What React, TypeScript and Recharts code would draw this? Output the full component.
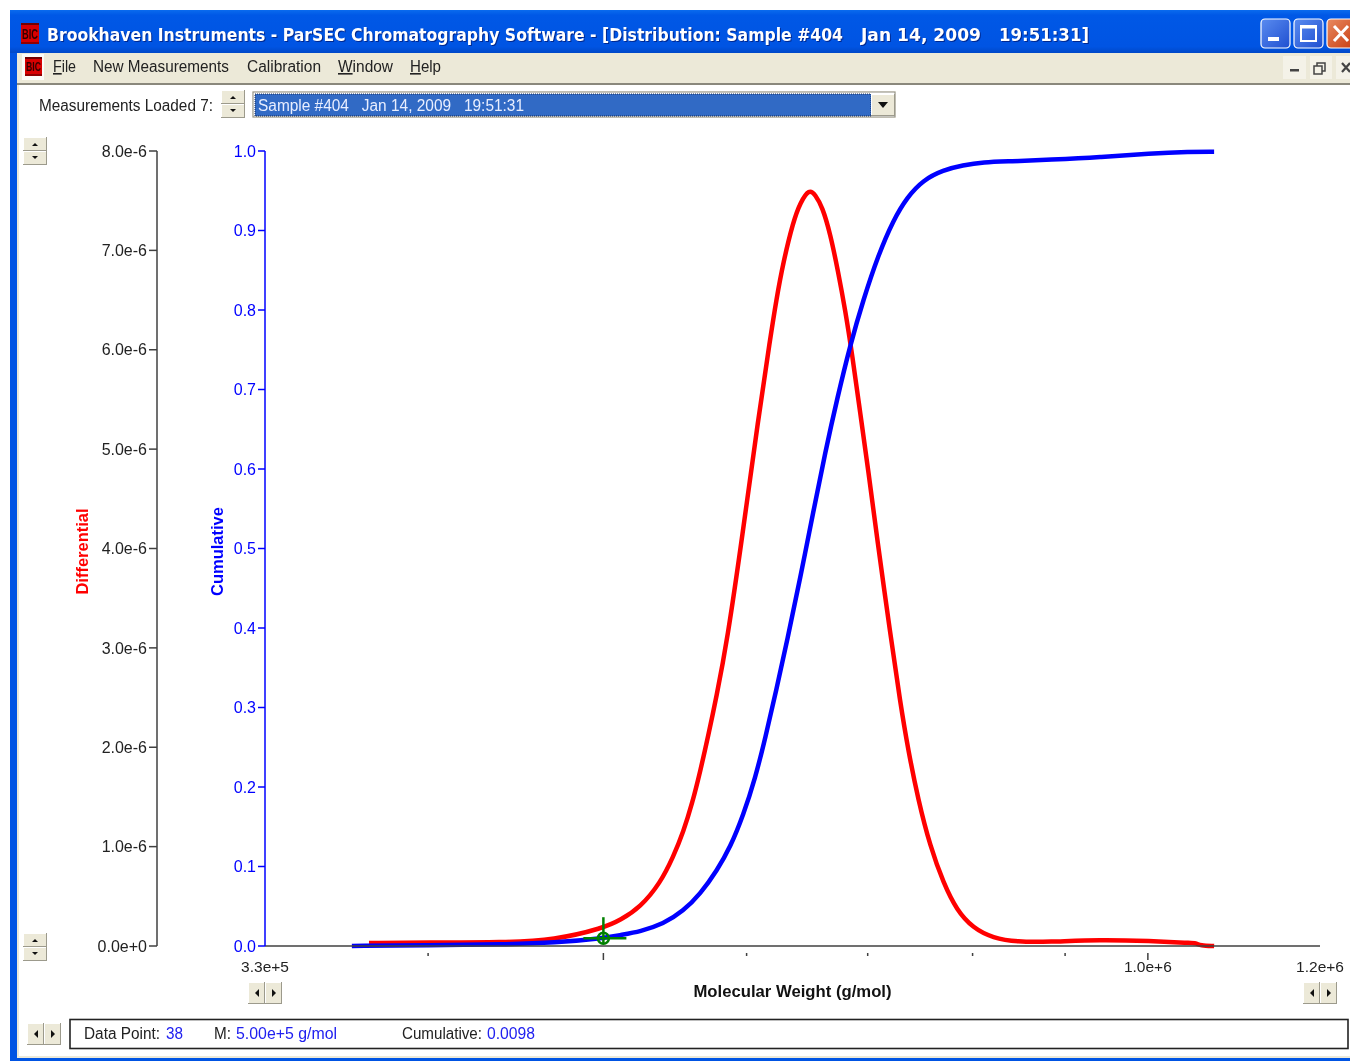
import { LineChart, Line, XAxis, YAxis, ReferenceDot } from 'recharts'

// molecular weight (g/mol) and values
const diffM = [371000, 400000, 440000, 470000, 500000, 510950, 524100, 537600, 546600, 553550, 559950, 565650, 571450, 577300, 585450, 596700, 609000, 618400, 623100, 628650, 636700, 642400, 649900, 654800, 660650, 667400, 674250, 680250, 686350, 693400, 700500, 708550, 720350, 729600, 737050, 746500, 758000, 771000, 784000, 800500, 821000, 847000, 880000, 941000, 1003000, 1055000, 1063000, 1069000, 1088000]
const diffValues = [0.03e-6, 0.035e-6, 0.035e-6, 0.06e-6, 0.18e-6, 0.26e-6, 0.39e-6, 0.634e-6, 0.9e-6, 1.147e-6, 1.44e-6, 1.76e-6, 2.12e-6, 2.5e-6, 3.08e-6, 4.12e-6, 5.31e-6, 6.12e-6, 6.5e-6, 6.88e-6, 7.29e-6, 7.48e-6, 7.62e-6, 7.56e-6, 7.44e-6, 7.17e-6, 6.78e-6, 6.4e-6, 5.95e-6, 5.36e-6, 4.79e-6, 4.09e-6, 3.15e-6, 2.45e-6, 1.97e-6, 1.47e-6, 1.0e-6, 0.63e-6, 0.36e-6, 0.18e-6, 0.08e-6, 0.04e-6, 0.04e-6, 0.065e-6, 0.05e-6, 0.03e-6, 0.03e-6, 0.005e-6, 0]

const cumM = [363000, 400000, 440000, 470000, 500000, 510950, 524100, 539700, 553550, 565650, 578000, 587700, 597500, 606650, 614450, 623100, 631900, 642400, 653150, 663150, 673400, 684600, 696050, 709450, 723150, 736100, 751250, 770600, 790000, 811000, 839000, 883000, 941000, 1003000, 1055000, 1088000]
const cumValues = [0, 0.001, 0.002, 0.004, 0.0098, 0.0138, 0.0182, 0.0277, 0.044, 0.0654, 0.0956, 0.1245, 0.1648, 0.2113, 0.2616, 0.322, 0.385, 0.463, 0.546, 0.621, 0.689, 0.756, 0.8126, 0.869, 0.913, 0.942, 0.9635, 0.976, 0.982, 0.986, 0.987, 0.989, 0.992, 0.997, 0.999, 0.999]

const diffTicks = [0, 1e-6, 2e-6, 3e-6, 4e-6, 5e-6, 6e-6, 7e-6, 8e-6]
const cumTicks = [0, 0.1, 0.2, 0.3, 0.4, 0.5, 0.6, 0.7, 0.8, 0.9, 1]
const xMin = 325000
const xMax = 1245000
const xTicks = [xMin, 400000, 500000, 600000, 700000, 800000, 900000, 1000000, xMax]
const xLabels: Record<number, string> = { [xMin]: '3.3e+5', 1000000: '1.0e+6', [xMax]: '1.2e+6' }
const xMajor = [500000, 1000000]

const diffData = diffM.map((m, i) => ({ m, v: diffValues[i] }))
const cumData = cumM.map((m, i) => ({ m, v: cumValues[i] }))

const FONT = '"Liberation Sans", Arial, sans-serif'
const BEIGE = '#ECE9D8'
const DARK = '#404040'
const BLUE = '#0000FF'
const TEXT_BLUE = '#2020F0'

function XTick({ x, y, payload }: any) {
  const v = payload.value
  const label = xLabels[v]
  const len = xMajor.includes(v) ? 7 : v === xMin || v === xMax ? 0 : 3
  return (
    <g>
      {len > 0 && <line x1={x} x2={x} y1={y - 1} y2={y - 1 + len} stroke={DARK} strokeWidth={1.5} />}
      {label && (
        <text x={x} y={y + 18} textAnchor="middle" fontSize={15.5} fontFamily={FONT} fill="#222">
          {label}
        </text>
      )}
    </g>
  )
}

function Crosshair({ cx, cy }: any) {
  const g = '#008000'
  return (
    <g stroke={g} fill="none">
      <line x1={cx} x2={cx} y1={cy - 21} y2={cy + 6} strokeWidth={2.5} />
      <line x1={cx - 20} x2={cx + 23} y1={cy} y2={cy} strokeWidth={2.5} />
      <circle cx={cx} cy={cy} r={5.5} strokeWidth={2.5} />
    </g>
  )
}

// text squeezed to the pixel width it has in the screenshot
function T({ x, y, w, children, fill = '#222', size = 16, weight, family = FONT, extra }: any) {
  return (
    <text
      x={x}
      y={y}
      textLength={w}
      lengthAdjust="spacingAndGlyphs"
      fill={fill}
      fontSize={size}
      fontWeight={weight}
      fontFamily={family}
      style={{ whiteSpace: 'pre', ...extra }}
    >
      {children}
    </text>
  )
}

function Btn({ x, y, w, h }: any) {
  return (
    <g>
      <rect x={x} y={y} width={w} height={h} fill="#9C9A8C" />
      <rect x={x} y={y} width={w - 1} height={h - 1} fill="#FFFFFF" />
      <rect x={x + 1} y={y + 1} width={w - 2} height={h - 2} fill={BEIGE} />
    </g>
  )
}

function VSpin({ x, y }: any) {
  const m = x + 12
  return (
    <g>
      <Btn x={x} y={y} w={24} h={14} />
      <Btn x={x} y={y + 14} w={24} h={14} />
      <path d={`M${m - 3} ${y + 9}h6l-3 -3z`} fill="#111" />
      <path d={`M${m - 3} ${y + 19}h6l-3 3z`} fill="#111" />
    </g>
  )
}

function HSpin({ x, y }: any) {
  const c = y + 11
  return (
    <g>
      <Btn x={x} y={y} w={17} h={22} />
      <Btn x={x + 17} y={y} w={17} h={22} />
      <path d={`M${x + 11} ${c - 4}v8l-4 -4z`} fill="#111" />
      <path d={`M${x + 24} ${c - 4}v8l4 -4z`} fill="#111" />
    </g>
  )
}

function Logo({ x, y, w, h }: any) {
  return (
    <g>
      <rect x={x} y={y} width={w} height={h} fill="#D80000" />
      <rect x={x} y={y} width={w} height={2} fill="#700000" />
      <rect x={x} y={y + h - 2} width={w} height={2} fill="#900000" />
      <text x={x + w / 2} y={y + h - 5} textAnchor="middle" fontSize={h * 0.72} fontWeight={700} fontFamily={FONT} fill="#300" textLength={w - 2} lengthAdjust="spacingAndGlyphs">
        BIC
      </text>
    </g>
  )
}

function Chrome() {
  const titleFont = '"DejaVu Sans Condensed", "DejaVu Sans", sans-serif'
  return (
    <svg width={1350} height={1061} style={{ position: 'absolute', left: 0, top: 0 }}>
      <defs>
        <linearGradient id="title" x1="0" y1="0" x2="0" y2="1">
          <stop offset="0" stopColor="#0A6BEE" />
          <stop offset="0.12" stopColor="#0058E6" />
          <stop offset="0.85" stopColor="#0054E3" />
          <stop offset="1" stopColor="#0048C8" />
        </linearGradient>
        <linearGradient id="tbtn" x1="0" y1="0" x2="1" y2="1">
          <stop offset="0" stopColor="#5A8CF0" />
          <stop offset="1" stopColor="#1F4FD0" />
        </linearGradient>
        <linearGradient id="xbtn" x1="0" y1="0" x2="1" y2="1">
          <stop offset="0" stopColor="#E88A60" />
          <stop offset="1" stopColor="#C83C10" />
        </linearGradient>
      </defs>

      {/* window frame */}
      <rect x={10} y={10} width={1340} height={1051} fill="#0054E3" />
      <rect x={10} y={10} width={1340} height={43} fill="url(#title)" />
      <rect x={17} y={53} width={1333} height={1005} fill={BEIGE} />
      <rect x={19} y={85} width={1331} height={971} fill="#FFFFFF" />
      <rect x={17} y={83} width={1333} height={2} fill="#8A887C" />

      <Logo x={21} y={23} w={18} h={21} />
      <g style={{ filter: 'drop-shadow(1px 1px 0 #002890)' }}>
        <T x={47} y={41} w={796} size={17.9} weight={700} fill="#FFFFFF" family={titleFont}>
          Brookhaven Instruments - ParSEC Chromatography Software - [Distribution: Sample #404
        </T>
        <T x={861} y={41} w={120} size={17.9} weight={700} fill="#FFFFFF" family={titleFont}>Jan 14, 2009</T>
        <T x={999} y={41} w={90} size={17.9} weight={700} fill="#FFFFFF" family={titleFont}>19:51:31]</T>
      </g>

      {/* caption buttons */}
      <rect x={1261} y={19} width={29} height={29} rx={4} fill="url(#tbtn)" stroke="#FFFFFF" strokeWidth={1.2} />
      <rect x={1268} y={37} width={11} height={4} fill="#FFFFFF" />
      <rect x={1294} y={19} width={29} height={29} rx={4} fill="url(#tbtn)" stroke="#FFFFFF" strokeWidth={1.2} />
      <rect x={1301} y={26} width={15} height={15} fill="none" stroke="#FFFFFF" strokeWidth={2} />
      <rect x={1300} y={25} width={17} height={3.5} fill="#FFFFFF" />
      <rect x={1327} y={19} width={29} height={29} rx={4} fill="url(#xbtn)" stroke="#FFFFFF" strokeWidth={1.2} />
      <path d="M1334 26l14 15M1348 26l-14 15" stroke="#FFFFFF" strokeWidth={3} />

      {/* menu bar */}
      <rect x={22} y={54} width={22} height={26} fill="#FFFFFF" opacity={0.8} />
      <Logo x={25} y={57} w={17} h={19} />
      <T x={53} y={72} w={23}><tspan textDecoration="underline">F</tspan>ile</T>
      <T x={93} y={72} w={136}>New Measurements</T>
      <T x={247} y={72} w={74}>Calibration</T>
      <T x={338} y={72} w={55}><tspan textDecoration="underline">W</tspan>indow</T>
      <T x={410} y={72} w={31}><tspan textDecoration="underline">H</tspan>elp</T>
      <rect x={1283} y={56} width={23} height={23} fill="#F4F2E8" />
      <rect x={1310} y={56} width={22} height={23} fill="#F4F2E8" />
      <rect x={1336} y={56} width={14} height={23} fill="#F4F2E8" />
      <rect x={1290} y={69} width={9} height={2.5} fill="#444" />
      <rect x={1317} y={63} width={8} height={8} fill="none" stroke="#444" strokeWidth={1.5} />
      <rect x={1314} y={66} width={8} height={8} fill="#F4F2E8" stroke="#444" strokeWidth={1.5} />
      <path d="M1342 63l8 9M1350 63l-8 9" stroke="#444" strokeWidth={2.2} />

      {/* measurement selector */}
      <T x={39} y={111} w={174}>Measurements Loaded 7:</T>
      <VSpin x={221} y={90} />
      <rect x={252} y={91} width={644} height={27} fill="#F4F2E8" />
      <rect x={253} y={92} width={642} height={25} fill="#FFFFFF" stroke="#8A887C" />
      <rect x={255} y={94} width={616} height={22} fill="#316AC5" stroke="#1A2A50" strokeDasharray="1 1" />
      <T x={258} y={111} w={266} fill="#E8EEFF">Sample #404   Jan 14, 2009   19:51:31</T>
      <Btn x={871} y={94} w={24} h={22} />
      <path d="M878 102h10l-5 6z" fill="#111" />

      <VSpin x={23} y={137} />
      <VSpin x={23} y={933} />
      <HSpin x={248} y={982} />
      <HSpin x={1303} y={982} />
      <HSpin x={27} y={1023} />

      {/* status box */}
      <rect x={70} y={1019.5} width={1278} height={29} fill="#FFFFFF" stroke="#222" strokeWidth={1.6} />
      <T x={84} y={1039} w={76}>Data Point:</T>
      <T x={166} y={1039} w={17} fill={TEXT_BLUE}>38</T>
      <T x={214} y={1039} w={17}>M:</T>
      <T x={236} y={1039} w={101} fill={TEXT_BLUE}>5.00e+5 g/mol</T>
      <T x={402} y={1039} w={80}>Cumulative:</T>
      <T x={487} y={1039} w={48} fill={TEXT_BLUE}>0.0098</T>
    </svg>
  )
}

export default function App() {
  return (
    <div style={{ position: 'absolute', left: 0, top: 0, width: 1350, height: 1061, overflow: 'hidden', background: '#fff', filter: 'blur(0.4px)' }}>
      <Chrome />
      <div style={{ position: 'absolute', left: 0, top: 0 }}>
        <LineChart width={1350} height={1061} margin={{ top: 151, right: 30, bottom: 55, left: 57 }}>
          <XAxis
            xAxisId="m"
            dataKey="m"
            type="number"
            scale="log"
            domain={[xMin, xMax]}
            ticks={xTicks}
            interval={0}
            allowDataOverflow
            height={60}
            axisLine={{ stroke: DARK, strokeWidth: 1.5 }}
            tickLine={false}
            tick={<XTick />}
            label={{ value: 'Molecular Weight (g/mol)', position: 'insideBottom', offset: 9, fill: '#111', fontSize: 16.7, fontWeight: 700, fontFamily: FONT }}
          />
          <YAxis
            yAxisId="cum"
            width={108}
            domain={[0, 1]}
            ticks={cumTicks}
            interval={0}
            tickFormatter={(v: number) => v.toFixed(1)}
            axisLine={{ stroke: BLUE, strokeWidth: 1.5 }}
            tickLine={{ stroke: BLUE, strokeWidth: 1.5 }}
            tickSize={7}
            tickMargin={2}
            tick={{ fill: BLUE, fontSize: 16, fontFamily: FONT }}
            label={{ value: 'Cumulative', angle: -90, position: 'insideLeft', textAnchor: 'middle', offset: 60, dy: 3, fill: BLUE, fontSize: 16.5, fontWeight: 700, fontFamily: FONT }}
          />
          <YAxis
            yAxisId="diff"
            width={100}
            domain={[0, 8e-6]}
            ticks={diffTicks}
            interval={0}
            tickFormatter={(v: number) => v.toExponential(1)}
            axisLine={{ stroke: DARK, strokeWidth: 1.5 }}
            tickLine={{ stroke: DARK, strokeWidth: 1.5 }}
            tickSize={8}
            tickMargin={2}
            tick={{ fill: '#222', fontSize: 16, fontFamily: FONT }}
            label={{ value: 'Differential', angle: -90, position: 'insideLeft', textAnchor: 'middle', offset: 25, dy: 3, fill: '#FF0000', fontSize: 16.5, fontWeight: 700, fontFamily: FONT }}
          />
          <Line xAxisId="m" yAxisId="diff" data={diffData} dataKey="v" type="basis" stroke="#FF0000" strokeWidth={4.5} dot={false} isAnimationActive={false} />
          <Line xAxisId="m" yAxisId="cum" data={cumData} dataKey="v" type="basis" stroke={BLUE} strokeWidth={4.5} dot={false} isAnimationActive={false} />
          <ReferenceDot xAxisId="m" yAxisId="cum" x={500000} y={0.0098} shape={<Crosshair />} ifOverflow="visible" />
        </LineChart>
      </div>
    </div>
  )
}
